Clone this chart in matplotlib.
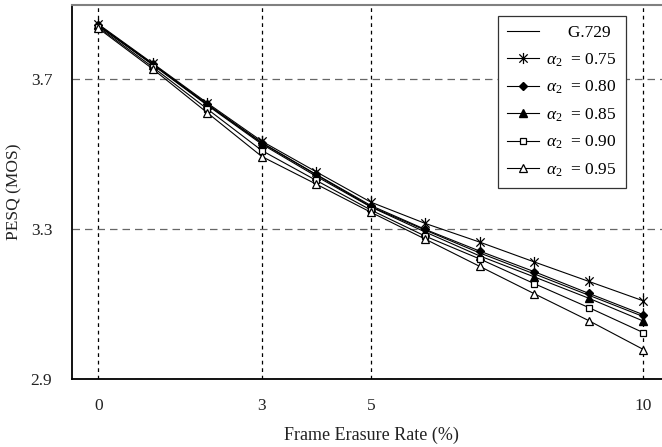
import matplotlib
matplotlib.use('Agg')
import matplotlib.pyplot as plt
from matplotlib.path import Path

plt.rcParams['font.family'] = 'Liberation Serif'
plt.rcParams['mathtext.fontset'] = 'custom'
plt.rcParams['mathtext.rm'] = 'Liberation Serif'
plt.rcParams['mathtext.it'] = 'Liberation Serif:italic'

# frame erasure rate (%)
rate = [0, 1, 2, 3, 4, 5, 6, 7, 8, 9, 10]

# PESQ (MOS)
g729 = [3.843, 3.740, 3.633, 3.530, 3.445, 3.360, 3.297, 3.236, 3.180, 3.123, 3.066]
a075 = [3.848, 3.743, 3.637, 3.535, 3.453, 3.372, 3.315, 3.265, 3.212, 3.160, 3.108]
a080 = [3.846, 3.741, 3.634, 3.531, 3.446, 3.363, 3.299, 3.241, 3.186, 3.128, 3.071]
a085 = [3.845, 3.739, 3.631, 3.527, 3.441, 3.359, 3.292, 3.228, 3.172, 3.115, 3.054]
a090 = [3.840, 3.733, 3.621, 3.510, 3.430, 3.351, 3.281, 3.220, 3.154, 3.090, 3.023]
a095 = [3.837, 3.728, 3.611, 3.494, 3.420, 3.345, 3.273, 3.200, 3.127, 3.055, 2.978]

labels = ['     G.729', r'$\alpha_2$  = 0.75', r'$\alpha_2$  = 0.80',
          r'$\alpha_2$  = 0.85', r'$\alpha_2$  = 0.90', r'$\alpha_2$  = 0.95']

# excel style star: vertical bar plus an x
star = Path([(0, -1), (0, 1), (-0.75, -0.75), (0.75, 0.75), (-0.75, 0.75), (0.75, -0.75)],
            [Path.MOVETO, Path.LINETO, Path.MOVETO, Path.LINETO, Path.MOVETO, Path.LINETO])

fig = plt.figure(figsize=(6.62, 4.47), dpi=100)
ax = fig.add_axes([0.1083, 0.1528, 0.8917, 0.8367])

lw = 0.8
ax.plot(rate, g729, color='black', lw=lw, label=labels[0])
ax.plot(rate, a075, color='black', lw=lw, marker=star, ms=8, mew=0.9,
        mfc='none', mec='black', label=labels[1])
ax.plot(rate, a080, color='black', lw=lw, marker='D', ms=4.5, mfc='black', label=labels[2])
ax.plot(rate, a085, color='black', lw=lw, marker='^', ms=6, mfc='black', label=labels[3])
ax.plot(rate, a090, color='black', lw=lw, marker='s', ms=5, mfc='white', mew=0.9, label=labels[4])
ax.plot(rate, a095, color='black', lw=lw, marker='^', ms=6, mfc='white', mew=0.9, label=labels[5])

ax.set_xlim(-0.488, 10.34)
ax.set_ylim(2.9, 3.9)
ax.set_xticks([0, 3, 5, 10])
ax.set_yticks([2.9, 3.3, 3.7])
ax.set_yticklabels(['2.9', '3.3', '3.7'])
ax.tick_params(length=0, pad=14, labelsize=12.5, colors='#222222')

ax.xaxis.grid(True, color='black', ls=(0, (3, 3)), lw=0.9)
ax.yaxis.grid(True, color='#666666', ls=(0, (6, 4)), lw=0.9)
ax.set_axisbelow(True)

ax.spines['right'].set_visible(False)
ax.spines['top'].set_color('#808080')
ax.spines['top'].set_linewidth(1.5)
ax.spines['left'].set_linewidth(1.3)
ax.spines['bottom'].set_linewidth(1.3)

ax.set_xlabel('Frame Erasure Rate (%)', fontsize=13, color='#222222')
ax.set_ylabel('PESQ (MOS)', fontsize=12.5, color='#222222')
ax.xaxis.set_label_coords(0.507, -0.128)
ax.yaxis.set_label_coords(-0.083, 0.5)

leg = ax.legend(loc='upper left', bbox_to_anchor=(0.7217, 0.9706), borderaxespad=0,
                fontsize=12.5, fancybox=False, edgecolor='#333333', framealpha=1,
                handlelength=1.85, handletextpad=0.4, labelspacing=0.58, borderpad=0.55)
leg.get_frame().set_linewidth(0.9)

plt.savefig('out.png', dpi=100)
